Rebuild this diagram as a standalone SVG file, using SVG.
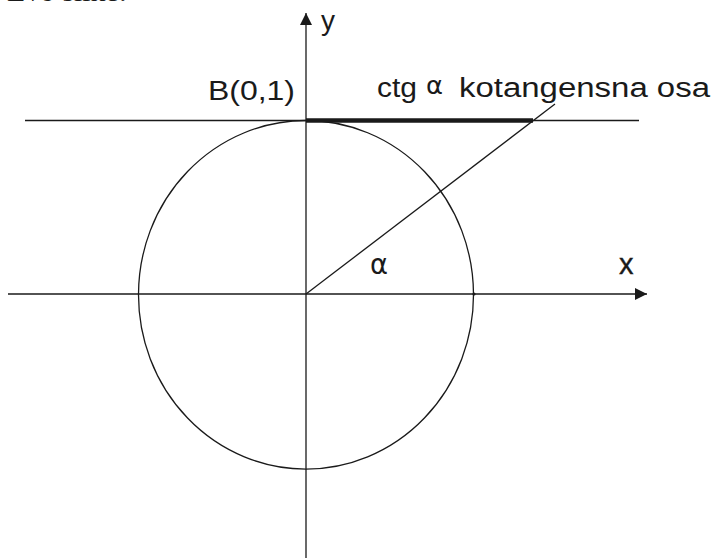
<svg xmlns="http://www.w3.org/2000/svg" width="716" height="558" viewBox="0 0 716 558">
<style>
.ln{stroke:#1a1a1a;stroke-width:1.3;fill:none}
.t{font-family:"Liberation Sans",Arial,sans-serif;fill:#1a1a1a}
.g{font-family:"DejaVu Sans","Liberation Serif",serif;fill:#1a1a1a}
</style>
<defs>
<marker id="ah" markerWidth="14" markerHeight="14" refX="12" refY="6" orient="auto" markerUnits="userSpaceOnUse">
<path d="M0,0 L12,6 L0,12 Z" fill="#1a1a1a"/>
</marker>
</defs>
<rect width="716" height="558" fill="#fff"/>
<text x="7" y="1" font-family="Liberation Serif,serif" font-size="28" fill="#1a1a1a" textLength="120" lengthAdjust="spacingAndGlyphs">Evo slike:</text>
<g id="circle">
<ellipse class="ln" cx="306" cy="294.8" rx="167.5" ry="174.3"/>
</g>
<g id="connectors">
<line id="x-axis" class="ln" x1="8" y1="294" x2="647" y2="294" marker-end="url(#ah)"/>
<line id="y-axis" class="ln" x1="306" y1="558" x2="306" y2="13" marker-end="url(#ah)"/>
<line id="tangent" class="ln" x1="25" y1="120.5" x2="639" y2="120.5"/>
<line id="ctg-segment" x1="306" y1="120.5" x2="533" y2="120.5" stroke="#1a1a1a" stroke-width="4.5"/>
<line id="radius" class="ln" x1="306" y1="294" x2="555" y2="104"/>
<circle cx="474" cy="294" r="1.6" fill="#1a1a1a"/>
</g>
<g id="label-y"><text class="t" x="321" y="30" font-size="28">y</text></g>
<g id="label-x"><text class="t" x="619" y="274" font-size="29" stroke="#1a1a1a" stroke-width="0.4">x</text></g>
<g id="label-B"><text class="t" x="208" y="100" font-size="27" textLength="87" lengthAdjust="spacingAndGlyphs">B(0,1)</text></g>
<g id="label-ctg">
<text class="t" x="377" y="97" font-size="27" textLength="40" lengthAdjust="spacingAndGlyphs">ctg</text>
<text class="g" x="426" y="94" font-size="24" textLength="17" lengthAdjust="spacingAndGlyphs">α</text>
</g>
<g id="label-axis"><text class="t" x="459" y="97" font-size="27" textLength="251" lengthAdjust="spacingAndGlyphs">kotangensna osa</text></g>
<g id="label-alpha"><text class="g" x="370" y="274" font-size="28" textLength="18" lengthAdjust="spacingAndGlyphs">α</text></g>
</svg>
